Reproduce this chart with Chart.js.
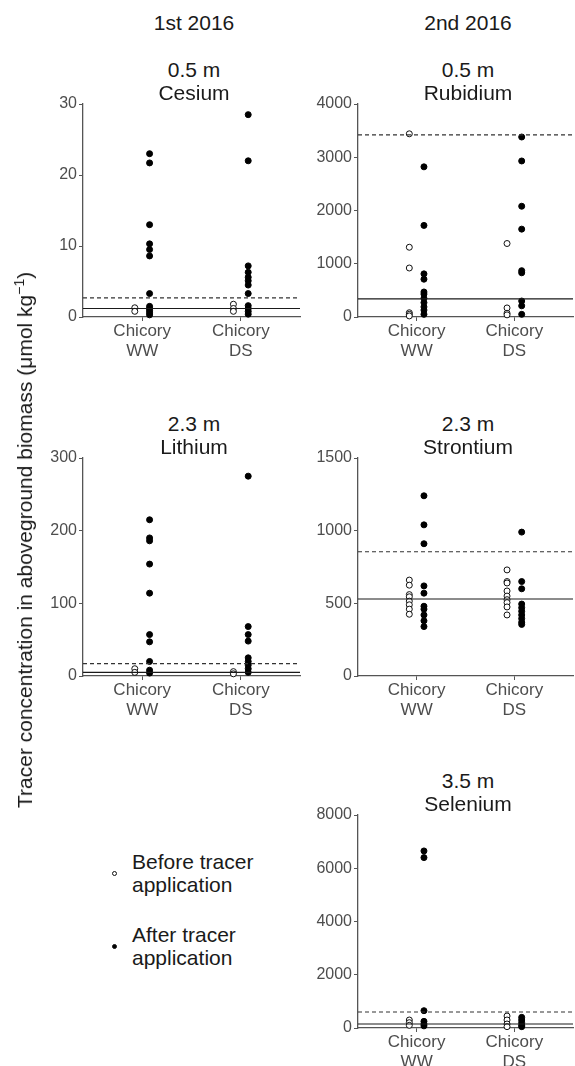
<!DOCTYPE html>
<html>
<head>
<meta charset="utf-8">
<script src="https://cdn.jsdelivr.net/npm/chart.js@4.4.1/dist/chart.umd.min.js"></script>
<style>
  html, body { margin: 0; padding: 0; background: #fff; }
  body { width: 575px; height: 1066px; position: relative; overflow: hidden; font-family: "Liberation Sans", Arial, sans-serif; }
  canvas { position: absolute; }
  .txt { position: absolute; transform: translate(-50%, -50%); white-space: nowrap; color: #1a1a1a; font-size: 21px; line-height: 1; }
  .ylab { position: absolute; left: 24px; top: 540px; transform: translate(-50%, -50%) rotate(-90deg); white-space: nowrap; color: #1a1a1a; font-size: 21px; }
  .leg { position: absolute; left: 132px; color: #1a1a1a; font-size: 21px; line-height: 23px; }
  .dot { position: absolute; width: 5px; height: 5px; border-radius: 50%; box-sizing: border-box; }
</style>
</head>
<body>
<script>
// categories on the x axis
const categories = [['Chicory', 'WW'], ['Chicory', 'DS']];

// Cesium 0.5 m (1st 2016)
const csBeforeWW = [1.3, 0.8];
const csBeforeDS = [1.8, 1.2, 0.8];
const csAfterWW = [23.0, 21.7, 13.0, 10.3, 9.5, 8.6, 3.3, 1.5, 1.2, 0.9, 0.6, 0.3];
const csAfterDS = [28.5, 22.0, 7.2, 6.3, 5.6, 5.1, 4.5, 3.3, 1.6, 1.2, 0.8, 0.4];
const csLines = [1.2, 2.7]; // solid, dashed

// Rubidium 0.5 m (2nd 2016)
const rbBeforeWW = [3440, 1310, 920, 80, 50, 20];
const rbBeforeDS = [1380, 170, 70, 40];
const rbAfterWW = [2820, 1720, 810, 710, 470, 430, 350, 270, 190, 130, 50];
const rbAfterDS = [3380, 2930, 2080, 1650, 870, 830, 300, 210, 50];
const rbLines = [340, 3420];

// Lithium 2.3 m (1st 2016)
const liBeforeWW = [10, 5];
const liBeforeDS = [6, 3];
const liAfterWW = [215, 190, 186, 154, 114, 57, 47, 20, 8, 4];
const liAfterDS = [275, 68, 57, 48, 25, 20, 15, 10, 5];
const liLines = [5, 17];

// Strontium 2.3 m (2nd 2016)
const srBeforeWW = [660, 625, 560, 545, 515, 490, 460, 425];
const srBeforeDS = [730, 650, 640, 585, 550, 525, 505, 475, 420];
const srAfterWW = [1240, 1040, 910, 620, 570, 480, 460, 420, 380, 340];
const srAfterDS = [990, 650, 600, 495, 470, 445, 420, 395, 370, 355];
const srLines = [530, 855];

// Selenium 3.5 m (2nd 2016)
const seBeforeWW = [300, 200, 100];
const seBeforeDS = [450, 300, 150, 50];
const seAfterWW = [6650, 6400, 650, 250, 150, 80];
const seAfterDS = [400, 300, 200, 100, 50];
const seLines = [150, 600];

const yTicks = {
  cs: [0, 30, 10], rb: [0, 4000, 1000], li: [0, 300, 100], sr: [0, 1500, 500], se: [0, 8000, 2000]
};

Chart.defaults.font.family = '"Liberation Sans", Arial, sans-serif';
Chart.defaults.animation = false;

const PAD_TOP = 14, Y_W = 50, X_H = 48;
const DODGE = 0.075;

function pts(vals, cat, side) {
  return vals.map(v => ({ x: cat + side * DODGE, y: v }));
}
function hline(v) {
  return [{ x: 0.4, y: v }, { x: 2.6, y: v }];
}

function addText(txt, cx, cy, size) {
  const d = document.createElement('div');
  d.className = 'txt';
  d.style.left = cx + 'px';
  d.style.top = cy + 'px';
  if (size) d.style.fontSize = size + 'px';
  d.textContent = txt;
  document.body.appendChild(d);
}

function panel(opt) {
  const c = document.createElement('canvas');
  const left = opt.axisX - Y_W;
  const w = opt.rightX - left;
  const h = PAD_TOP + (opt.bottom - opt.top) + X_H;
  c.width = w; c.height = h;
  c.style.left = left + 'px';
  c.style.top = (opt.top - PAD_TOP) + 'px';
  c.style.width = w + 'px'; c.style.height = h + 'px';
  document.body.appendChild(c);

  const open = { pointRadius: 3, pointBorderWidth: 1, pointBackgroundColor: '#fff', pointBorderColor: '#111', showLine: false, clip: false };
  const fill = { pointRadius: 3, pointBorderWidth: 1, pointBackgroundColor: '#000', pointBorderColor: '#000', showLine: false, clip: false };
  const ln = { pointRadius: 0, showLine: true, borderWidth: 1.1, fill: false };

  new Chart(c, {
    type: 'scatter',
    data: {
      datasets: [
        { ...ln, data: hline(opt.lines[0]), borderColor: '#1a1a1a' },
        { ...ln, data: hline(opt.lines[1]), borderColor: '#333', borderDash: [4, 3] },
        { ...open, data: pts(opt.bWW, 1, -1) },
        { ...open, data: pts(opt.bDS, 2, -1) },
        { ...fill, data: pts(opt.aWW, 1, 1) },
        { ...fill, data: pts(opt.aDS, 2, 1) }
      ]
    },
    options: {
      responsive: false,
      devicePixelRatio: 1,
      layout: { padding: { top: PAD_TOP, right: 0, left: 0, bottom: 0 } },
      plugins: { legend: { display: false }, tooltip: { enabled: false } },
      scales: {
        x: {
          type: 'linear', min: 0.4, max: 2.6,
          afterBuildTicks: s => { s.ticks = [{ value: 1 }, { value: 2 }]; },
          afterFit: s => { s.height = X_H; },
          ticks: {
            callback: v => categories[v - 1] || '',
            color: '#4d4d4d', font: { size: 17 }, padding: 0, maxRotation: 0, autoSkip: false
          },
          grid: { drawOnChartArea: false, tickLength: 4, color: '#555', tickWidth: 1 },
          border: { color: '#555', width: 1.3 }
        },
        y: {
          min: opt.yt[0], max: opt.yt[1],
          afterFit: s => { s.width = Y_W; },
          ticks: { stepSize: opt.yt[2], color: '#4d4d4d', font: { size: 16 }, padding: 2, callback: v => String(v) },
          grid: { drawOnChartArea: false, tickLength: 4, color: '#555', tickWidth: 1 },
          border: { color: '#555', width: 1.3 }
        }
      }
    }
  });

  const cx = (opt.axisX + opt.rightX) / 2;
  addText(opt.t1, cx, opt.top - 35);
  addText(opt.t2, cx, opt.top - 12);
}

const L = { axisX: 83, rightX: 305 };
const R = { axisX: 358, rightX: 578 };

addText('1st 2016', 194, 22);
addText('2nd 2016', 468, 22);

panel({ ...L, top: 104, bottom: 317, yt: yTicks.cs, t1: '0.5 m', t2: 'Cesium',
  bWW: csBeforeWW, bDS: csBeforeDS, aWW: csAfterWW, aDS: csAfterDS, lines: csLines });
panel({ ...R, top: 104, bottom: 317, yt: yTicks.rb, t1: '0.5 m', t2: 'Rubidium',
  bWW: rbBeforeWW, bDS: rbBeforeDS, aWW: rbAfterWW, aDS: rbAfterDS, lines: rbLines });
panel({ ...L, top: 458, bottom: 676, yt: yTicks.li, t1: '2.3 m', t2: 'Lithium',
  bWW: liBeforeWW, bDS: liBeforeDS, aWW: liAfterWW, aDS: liAfterDS, lines: liLines });
panel({ ...R, top: 458, bottom: 676, yt: yTicks.sr, t1: '2.3 m', t2: 'Strontium',
  bWW: srBeforeWW, bDS: srBeforeDS, aWW: srAfterWW, aDS: srAfterDS, lines: srLines });
panel({ ...R, top: 815, bottom: 1028, yt: yTicks.se, t1: '3.5 m', t2: 'Selenium',
  bWW: seBeforeWW, bDS: seBeforeDS, aWW: seAfterWW, aDS: seAfterDS, lines: seLines });

// y axis title
const yl = document.createElement('div');
yl.className = 'ylab';
yl.innerHTML = 'Tracer concentration in aboveground biomass (\u03bcmol kg<sup style="font-size:14px">\u22121</sup>)';
document.body.appendChild(yl);

// legend
function legend(lines, y, filled) {
  const d = document.createElement('div');
  d.className = 'leg';
  d.style.top = (y - 23) + 'px';
  d.innerHTML = lines.join('<br>');
  document.body.appendChild(d);
  const m = document.createElement('div');
  m.className = 'dot';
  m.style.left = '112px';
  m.style.top = (y - 2) + 'px';
  m.style.background = filled ? '#000' : '#fff';
  m.style.border = '1px solid #111';
  document.body.appendChild(m);
}
legend(['Before tracer', 'application'], 873, false);
legend(['After tracer', 'application'], 946, true);
</script>
</body>
</html>
